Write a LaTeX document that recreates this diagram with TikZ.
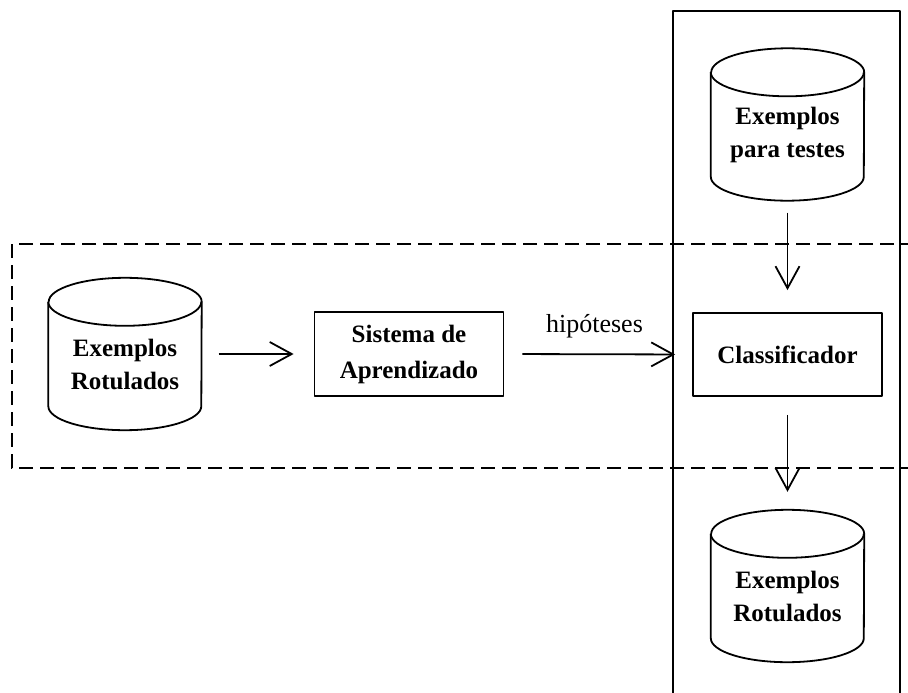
\documentclass[tikz,border=0pt]{standalone}
\usepackage{fontspec}
\setmainfont{Liberation Serif}
\usetikzlibrary{arrows.meta}
\tikzset{
  ln/.style={line width=1.8pt, line join=round},
  arr/.style={ln, -{Straight Barb[length=22pt, width=24pt, line width=1.8pt]}},
  boxnode/.style={ln, draw, rectangle, inner sep=0pt, align=center, font=\fontsize{25}{36}\selectfont\bfseries},
  cylbox/.style={rectangle, inner sep=0pt, minimum width=153pt, minimum height=152pt},
  cyltext/.style={align=center, inner sep=0pt, font=\fontsize{25}{33}\selectfont\bfseries},
  lbl/.style={font=\fontsize{26}{30}\selectfont, inner sep=0pt},
  dashedframe/.style={line width=1.8pt, dash pattern=on 14pt off 7pt},
}
\newcommand\dbcyl[4]{%
  \node[cylbox] (#1) at (#2,#3) {};
  \draw[ln] ([yshift=-24pt]#1.north west) -- ([yshift=24pt]#1.south west)
    arc[start angle=180, end angle=360, x radius=76.5pt, y radius=24pt]
    -- ([yshift=-24pt]#1.north east)
    arc[start angle=0, end angle=180, x radius=76.5pt, y radius=24pt];
  \draw[ln] ([yshift=-24pt]#1.north west)
    arc[start angle=180, end angle=360, x radius=76.5pt, y radius=24pt];
  \node[cyltext] (#1t) at ([yshift=-10pt]#1.center) {#4};
}
\begin{document}
\begin{tikzpicture}[x=1pt, y=-1pt]
\useasboundingbox (0,0) rectangle (908,693);
\clip (0,0) rectangle (908,693);
\fill[white] (0,0) rectangle (908,693);

% outer frames
\draw[dashedframe] (915,244) -- (12,244) -- (12,468) -- (915,468);
\draw[ln] (673,700) -- (673,11) -- (900,11) -- (900,700);

% cylinders
\dbcyl{ex1}{125}{354}{Exemplos\\Rotulados}
\dbcyl{ext}{787.5}{124.5}{Exemplos\\para testes}
\dbcyl{exr}{787.5}{586}{Exemplos\\Rotulados}

% boxes
\node[boxnode, minimum width=189pt, minimum height=84pt] (sis) at (409,354) {Sistema de\\Aprendizado};
\node[boxnode, minimum width=189pt, minimum height=83pt] (cls) at (787.5,354.5) {Classificador};

% connectors
\draw[arr, shorten <=17pt, shorten >=20pt] (ex1.east) -- (sis.west);
\draw[arr, shorten <=18pt, shorten >=17pt] (sis.east) -- node[lbl, pos=0.48, yshift=28pt] {hipóteses} (cls.west);
\draw[arr, shorten <=12pt, shorten >=22pt] (ext.south) -- (cls.north);
\draw[arr, shorten <=18pt, shorten >=18pt] (cls.south) -- (exr.north);
\end{tikzpicture}
\end{document}
